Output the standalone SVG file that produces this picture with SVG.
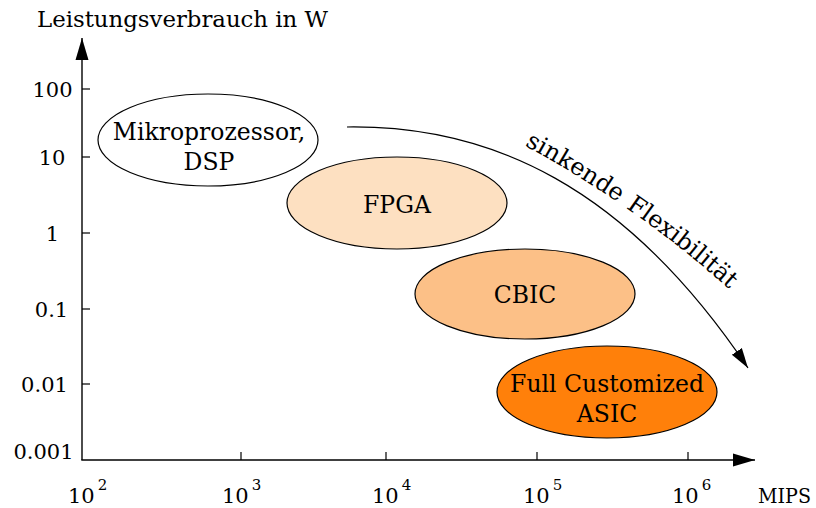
<svg xmlns="http://www.w3.org/2000/svg" width="816" height="508" viewBox="0 0 816 508">
<style>
text{font-family:"DejaVu Serif","Liberation Serif",serif;fill:#000}
.lbl{font-size:23.5px;text-anchor:middle}
.num{font-size:21px;text-anchor:middle}
.xl{font-size:21px}
.sup{font-size:15px}
.flex{font-size:24px}
.node ellipse{stroke:#000;stroke-width:1.2}
.axis{stroke:#000;stroke-width:1.4;fill:none}
.tick{stroke:#000;stroke-width:1.2}
.conn{stroke:#000;stroke-width:1.2;fill:none}
</style>
<defs>
<marker id="axh" markerUnits="userSpaceOnUse" markerWidth="24" markerHeight="14" refX="22" refY="7" orient="auto"><path d="M0,0.5 L22,7 L0,13.5 Z" fill="#000"/></marker>
<marker id="cah" markerUnits="userSpaceOnUse" markerWidth="22" markerHeight="14" refX="20" refY="7" orient="auto"><path d="M0,1 L20,7 L0,13 Z" fill="#000"/></marker>
<path id="flexpath" d="M505,135 Q630,200 730,290"/>
</defs>

<g id="axes">
<line class="axis" x1="82" y1="460" x2="82" y2="38" marker-end="url(#axh)"/>
<line class="axis" x1="81.3" y1="460" x2="755" y2="460" marker-end="url(#axh)"/>
<g class="tick">
<line x1="82" y1="89" x2="90" y2="89"/>
<line x1="82" y1="157" x2="90" y2="157"/>
<line x1="82" y1="233" x2="90" y2="233"/>
<line x1="82" y1="309" x2="90" y2="309"/>
<line x1="82" y1="384" x2="90" y2="384"/>
<line x1="241" y1="460" x2="241" y2="452"/>
<line x1="386" y1="460" x2="386" y2="452"/>
<line x1="537" y1="460" x2="537" y2="452"/>
<line x1="688" y1="460" x2="688" y2="452"/>
</g>
<text x="37" y="27" style="font-size:23px" textLength="291" lengthAdjust="spacingAndGlyphs">Leistungsverbrauch in W</text>
<text class="num" x="52.5" y="97">100</text>
<text class="num" x="52" y="165">10</text>
<text class="num" x="52.5" y="241">1</text>
<text class="num" x="51.5" y="317">0.1</text>
<text class="num" x="44.5" y="392">0.01</text>
<text class="num" x="43.5" y="459">0.001</text>
<text class="xl" x="68" y="503">10<tspan class="sup" dx="3" dy="-13">2</tspan></text>
<text class="xl" x="222" y="503">10<tspan class="sup" dx="3" dy="-13">3</tspan></text>
<text class="xl" x="372" y="503">10<tspan class="sup" dx="3" dy="-13">4</tspan></text>
<text class="xl" x="523" y="503">10<tspan class="sup" dx="3" dy="-13">5</tspan></text>
<text class="xl" x="672" y="503">10<tspan class="sup" dx="3" dy="-13">6</tspan></text>
<text class="xl" x="758" y="503" textLength="53" lengthAdjust="spacingAndGlyphs">MIPS</text>
</g>

<g id="node-mikroprozessor" class="node">
<ellipse cx="208" cy="140" rx="110" ry="46" fill="#ffffff"/>
<text class="lbl" x="209" y="140">Mikroprozessor,</text>
<text class="lbl" x="209" y="170">DSP</text>
</g>
<g id="node-fpga" class="node">
<ellipse cx="397" cy="203" rx="110" ry="46" fill="#fde0c1"/>
<text class="lbl" x="397" y="213">FPGA</text>
</g>
<g id="node-cbic" class="node">
<ellipse cx="525" cy="294" rx="110" ry="45" fill="#fcc087"/>
<text class="lbl" x="525" y="303">CBIC</text>
</g>
<g id="node-asic" class="node">
<ellipse cx="607" cy="392" rx="110" ry="46" fill="#ff800a"/>
<text class="lbl" x="607" y="392">Full Customized</text>
<text class="lbl" x="607" y="422">ASIC</text>
</g>

<g id="connectors">
<path class="conn" d="M347,127 C490,125 625,185 748,368" marker-end="url(#cah)"/>
<text class="flex"><textPath href="#flexpath" startOffset="22">sinkende</textPath></text>
<text class="flex"><textPath href="#flexpath" startOffset="141">Flexibilität</textPath></text>
</g>
</svg>
